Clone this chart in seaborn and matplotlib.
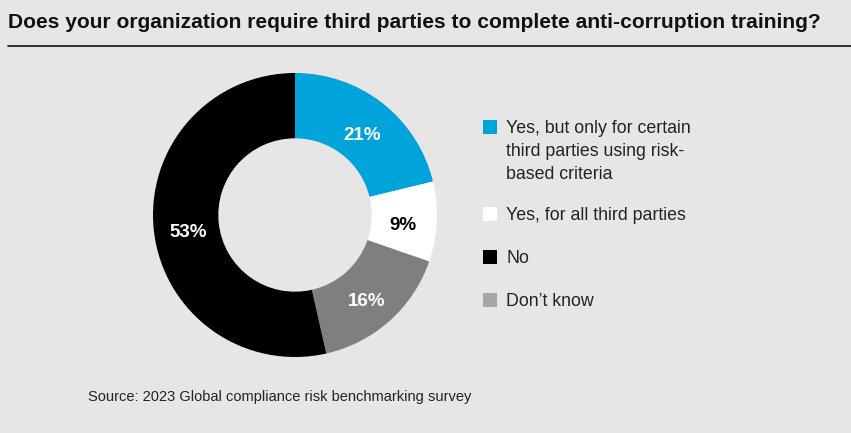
import matplotlib
matplotlib.use("Agg")
import matplotlib.pyplot as plt
from matplotlib.patches import Rectangle
import seaborn as sns

# data
answers = ["Yes, but only for certain\nthird parties using risk-\nbased criteria",
           "Yes, for all third parties",
           "No",
           "Don\u2019t know"]
shares = [21, 9, 53, 16]
pie_order = [0, 1, 3, 2]  # clockwise from 12 o'clock: blue, white, gray, black
slice_colors = ["#00a3da", "#ffffff", "#000000", "#7f7f7f"]
swatch_colors = ["#00a3da", "#ffffff", "#000000", "#a6a6a8"]
label_colors = ["white", "black", "white", "white"]

title = "Does your organization require third parties to complete anti-corruption training?"
source = "Source: 2023 Global compliance risk benchmarking survey"

bg = "#e6e6e6"
sns.set_theme(style="white", rc={"figure.facecolor": bg, "axes.facecolor": bg})
plt.rcParams["font.family"] = ["Liberation Sans", "DejaVu Sans"]

W, H = 851, 433
fig = plt.figure(figsize=(W / 100, H / 100), dpi=100)

# donut axes: centre (295, 215) px, outer radius 142 px
cx, cy, r = 295, 215, 142
ax = fig.add_axes([(cx - r) / W, (H - cy - r) / H, 2 * r / W, 2 * r / H])
ax.set_facecolor(bg)

vals = [shares[i] for i in pie_order]
cols = [slice_colors[i] for i in pie_order]
wedges, texts, autotexts = ax.pie(
    vals, colors=cols, startangle=90, counterclock=False, radius=1,
    wedgeprops=dict(width=0.46, linewidth=0),
    autopct=lambda p: "", pctdistance=0.76,
)
for t, i in zip(autotexts, pie_order):
    t.set_text(f"{shares[i]}%")
    t.set_color(label_colors[i])
    t.set_fontsize(13.5)
    t.set_fontweight("bold")
    x0, y0 = t.get_position()
    t.set_position((x0, y0 - 0.04))  # nudge down a little, like the original
ax.set_xlim(-1, 1)
ax.set_ylim(-1, 1)
ax.axis("off")

# title + rule
fig.text(8 / W, 1 - 22 / H, title, fontsize=15.1, fontweight="bold",
         ha="left", va="center", color="#111111")
fig.add_artist(plt.Line2D([8 / W, 1.0], [1 - 46 / H, 1 - 46 / H],
                          color="#111111", linewidth=1.2))

# legend
y = 127
for lab, col in zip(answers, swatch_colors):
    fig.add_artist(Rectangle((483 / W, 1 - (y + 7) / H), 14 / W, 14 / H,
                             transform=fig.transFigure, facecolor=col,
                             edgecolor="none"))
    fig.text(506 / W, 1 - (y - 7) / H, lab, fontsize=12.8, color="#222222",
             ha="left", va="top", linespacing=1.48)
    y += (lab.count("\n")) * 22 + 43

fig.text(88 / W, 1 - 397 / H, source, fontsize=10.5, color="#222222",
         ha="left", va="center")

fig.savefig("out.png", dpi=100, facecolor=bg)
